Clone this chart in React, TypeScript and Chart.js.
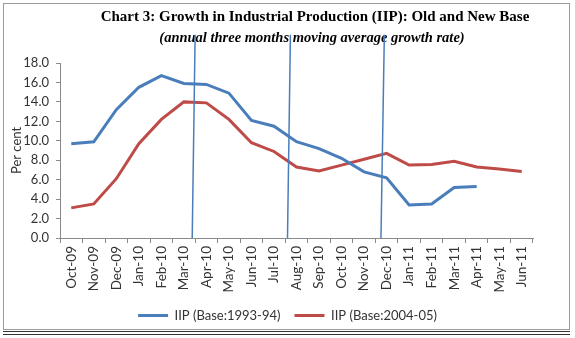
import React, { useEffect, useRef } from "react";
import { Chart, registerables } from "chart.js";

Chart.register(...registerables);

const categories = [
  "Oct-09", "Nov-09", "Dec-09", "Jan-10", "Feb-10", "Mar-10", "Apr-10",
  "May-10", "Jun-10", "Jul-10", "Aug-10", "Sep-10", "Oct-10", "Nov-10",
  "Dec-10", "Jan-11", "Feb-11", "Mar-11", "Apr-11", "May-11", "Jun-11",
];
const iipOldBase = [
  9.7, 9.9, 13.2, 15.5, 16.7, 15.9, 15.8, 14.9, 12.1, 11.5, 9.9, 9.2,
  8.2, 6.8, 6.2, 3.4, 3.5, 5.2, 5.3, null, null,
];
const iipNewBase = [
  3.1, 3.5, 6.1, 9.7, 12.2, 14.0, 13.9, 12.2, 9.8, 8.9, 7.3, 6.9,
  7.5, 8.1, 8.7, 7.5, 7.55, 7.9, 7.3, 7.1, 6.85,
];
const seriesNames = ["IIP (Base:1993-94)", "IIP (Base:2004-05)"];
const yMin = 0;
const yMax = 18;
const yStep = 2;
// vertical marker lines (in category-index units), bottom and top ends
const markerBottom = [5.37, 9.6, 13.75];
const markerTop = [5.5, 9.73, 13.9];
const markerTopValue = 20.9;

const titleText = "Chart 3: Growth in Industrial Production (IIP): Old and New Base";
const subtitleText = "(annual three months moving average growth rate)";

const BLUE = "#4a7ebb";
const RED = "#be4b48";
const AXIS = "#8a8a8a";
const TEXT = "#333333";
const SANS = "Lato, 'Open Sans', sans-serif";

const overlayPlugin = {
  id: "overlay",
  afterDraw(chart: any) {
    const { ctx } = chart;
    const xs = chart.scales.x;
    const ys = chart.scales.y;
    ctx.save();
    ctx.fillStyle = "#000";
    ctx.textAlign = "center";
    ctx.textBaseline = "middle";
    ctx.font = "bold 15px 'Liberation Serif', serif";
    ctx.fillText(titleText, 315, 17);
    ctx.font = "italic bold 14.5px 'Liberation Serif', serif";
    ctx.fillText(subtitleText, 312, 38);

    ctx.strokeStyle = BLUE;
    ctx.lineWidth = 1.5;
    for (let i = 0; i < markerBottom.length; i++) {
      ctx.beginPath();
      ctx.moveTo(xs.getPixelForValue(markerBottom[i]), ys.getPixelForValue(yMin));
      ctx.lineTo(xs.getPixelForValue(markerTop[i]), ys.getPixelForValue(markerTopValue));
      ctx.stroke();
    }
    ctx.restore();
  },
};

export default function App() {
  const ref = useRef<HTMLCanvasElement>(null);
  useEffect(() => {
    if (!ref.current) return;
    const chart = new Chart(ref.current, {
      type: "line",
      data: {
        labels: categories,
        datasets: [
          {
            label: seriesNames[0],
            data: iipOldBase,
            borderColor: BLUE,
            backgroundColor: BLUE,
            borderWidth: 3,
            pointRadius: 0,
            tension: 0,
            spanGaps: false,
          },
          {
            label: seriesNames[1],
            data: iipNewBase,
            borderColor: RED,
            backgroundColor: RED,
            borderWidth: 3,
            pointRadius: 0,
            tension: 0,
          },
        ],
      },
      options: {
        responsive: false,
        animation: false,
        layout: { padding: { top: 63, left: 0, right: 0, bottom: 0 } },
        plugins: {
          title: { display: false },
          tooltip: { enabled: false },
          legend: {
            position: "bottom",
            labels: {
              boxWidth: 30,
              boxHeight: 3,
              padding: 14,
              color: TEXT,
              font: { family: SANS, size: 13 },
              generateLabels: (c: any) =>
                (Chart.defaults.plugins.legend.labels as any)
                  .generateLabels(c)
                  .map((l: any) => ({ ...l, lineWidth: 0 })),
            },
          },
        },
        scales: {
          x: {
            type: "category",
            offset: true,
            grid: {
              offset: true,
              drawOnChartArea: false,
              drawTicks: true,
              tickLength: 5,
              color: AXIS,
            },
            border: { color: AXIS, width: 1 },
            ticks: {
              minRotation: 90,
              maxRotation: 90,
              autoSkip: false,
              padding: 3,
              color: TEXT,
              font: { family: SANS, size: 13.5 },
            },
            afterFit: (s: any) => {
              s.height = 57;
            },
          },
          y: {
            type: "linear",
            position: "left",
            min: yMin,
            max: yMax,
            grid: {
              drawOnChartArea: false,
              drawTicks: true,
              tickLength: 4,
              color: AXIS,
            },
            border: { color: AXIS, width: 1 },
            ticks: {
              stepSize: yStep,
              padding: 7,
              color: TEXT,
              font: { family: SANS, size: 13 },
              callback: (v: any) => Number(v).toFixed(1),
            },
            title: {
              display: true,
              text: "Per cent",
              color: TEXT,
              font: { family: SANS, size: 13 },
              padding: { top: 9, bottom: 0 },
            },
            afterFit: (s: any) => {
              s.width = 60;
            },
          },
          yR: {
            type: "linear",
            position: "right",
            display: true,
            grid: { display: false, drawTicks: false },
            border: { display: false },
            ticks: { display: false },
            afterFit: (s: any) => {
              s.width = 42;
            },
          },
        },
      },
      plugins: [overlayPlugin],
    } as any);
    return () => chart.destroy();
  }, []);

  return (
    <div
      style={{
        position: "absolute",
        left: 0,
        top: 0,
        width: 575,
        height: 338,
        overflow: "hidden",
        background: "#fff",
      }}
    >
      <div
        style={{
          position: "absolute",
          left: 3,
          top: 3,
          width: 567,
          height: 327,
          border: "1px solid #9a9a9a",
          boxSizing: "border-box",
        }}
      />
      <div
        style={{
          position: "absolute",
          left: 3,
          top: 331,
          width: 567,
          height: 4,
          borderTop: "1px solid #333",
          borderBottom: "1px solid #333",
          boxSizing: "border-box",
        }}
      />
      <canvas
        ref={ref}
        width={575}
        height={332}
        style={{ position: "absolute", left: 0, top: 0 }}
      />
    </div>
  );
}
